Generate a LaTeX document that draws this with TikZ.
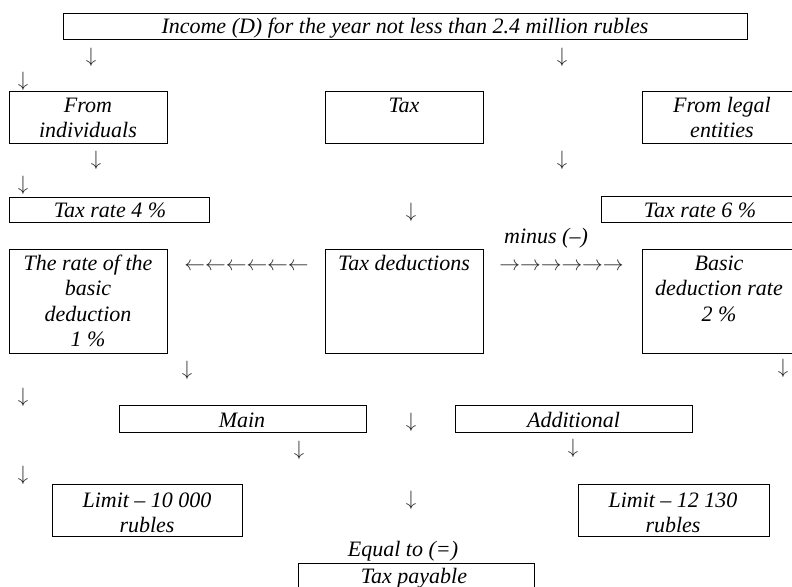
\documentclass[tikz,border=0pt]{standalone}
\usepackage{fontspec}
\setmainfont{Liberation Serif}
\begin{document}
\begin{tikzpicture}[x=1pt,y=-1pt,
  box/.style={draw=black, line width=0.9pt, inner sep=0pt, outer sep=0pt, anchor=north west},
  txt/.style={font=\fontsize{22}{25.5}\selectfont\itshape, inner sep=0pt, anchor=base},
  arr/.style={font=\fontsize{20}{24}\selectfont, inner sep=0pt, anchor=center, text=black!85},
  harr/.style={font=\fontsize{22}{25.5}\selectfont, inner sep=0pt, anchor=base, text=black!85}]
\useasboundingbox (0,0) rectangle (792,586);
\clip (0,0) rectangle (792,586);
% boxes
\node[box, minimum width=684pt, minimum height=26pt] (income) at (63,13) {};
\node[box, minimum width=158pt, minimum height=52pt] (indiv) at (9,91) {};
\node[box, minimum width=158pt, minimum height=52pt] (tax) at (325,91) {};
\node[box, minimum width=162pt, minimum height=52pt] (legal) at (642,91) {};
\node[box, minimum width=200pt, minimum height=25pt] (rate4) at (9,197) {};
\node[box, minimum width=200pt, minimum height=26pt] (rate6) at (601,196) {};
\node[box, minimum width=158pt, minimum height=104pt] (basicl) at (9,249) {};
\node[box, minimum width=158pt, minimum height=104pt] (deduct) at (325,249) {};
\node[box, minimum width=158pt, minimum height=104pt] (basicr) at (642,249) {};
\node[box, minimum width=247pt, minimum height=27pt] (main) at (119,405) {};
\node[box, minimum width=237pt, minimum height=27pt] (addit) at (455,405) {};
\node[box, minimum width=190pt, minimum height=52pt] (lim1) at (52,484) {};
\node[box, minimum width=191pt, minimum height=52pt] (lim2) at (578,484) {};
\node[box, minimum width=236pt, minimum height=40pt] (payable) at (298,563) {};
% texts
\node[txt] (income-t) at (405,33.5) {Income (D) for the year not less than 2.4 million rubles};
\node[txt] (indiv-t) at (88,112) {\parbox[t]{150pt}{\centering From\\individuals}};
\node[txt] (tax-t) at (404,112) {Tax};
\node[txt] (legal-t) at (722,112) {\parbox[t]{150pt}{\centering From legal\\entities}};
\node[txt] (rate4-t) at (110,217) {Tax rate 4 \%};
\node[txt] (rate6-t) at (700,217) {Tax rate 6 \%};
\node[txt] (basicl-t) at (88,270) {\parbox[t]{150pt}{\centering The rate of the\\basic\\deduction\\1 \%}};
\node[txt] (deduct-t) at (404,270) {Tax deductions};
\node[txt] (basicr-t) at (719,270) {\parbox[t]{150pt}{\centering Basic\\deduction rate\\2 \%}};
\node[txt] (minus) at (546,243) {minus (–)};
\node[harr] (larr) at (246.5,270) {$\leftarrow\leftarrow\leftarrow\leftarrow\leftarrow\leftarrow$};
\node[harr] (rarr) at (561.5,270) {$\rightarrow\rightarrow\rightarrow\rightarrow\rightarrow\rightarrow$};
\node[txt] (main-t) at (242,427) {Main};
\node[txt] (addit-t) at (573.5,427) {Additional};
\node[txt] (lim1-t) at (147,507) {\parbox[t]{180pt}{\centering Limit – 10 000\\rubles}};
\node[txt] (lim2-t) at (673,507) {\parbox[t]{180pt}{\centering Limit – 12 130\\rubles}};
\node[txt] (equal) at (403,556) {Equal to (=)};
\node[txt] (payable-t) at (414,583) {Tax payable};
% down arrows (text glyphs)
\node[arr] (d1) at (91,57) {$\downarrow$};
\node[arr] (d2) at (562,57) {$\downarrow$};
\node[arr] (d3) at (23,81) {$\downarrow$};
\node[arr] (d4) at (96,160) {$\downarrow$};
\node[arr] (d5) at (562,160) {$\downarrow$};
\node[arr] (d6) at (23,185) {$\downarrow$};
\node[arr] (d7) at (411,212) {$\downarrow$};
\node[arr] (d8) at (187,370) {$\downarrow$};
\node[arr] (d9) at (783,368) {$\downarrow$};
\node[arr] (d10) at (23,397) {$\downarrow$};
\node[arr] (d11) at (411,422) {$\downarrow$};
\node[arr] (d12) at (299,450) {$\downarrow$};
\node[arr] (d13) at (573,448) {$\downarrow$};
\node[arr] (d14) at (23,475) {$\downarrow$};
\node[arr] (d15) at (411,500) {$\downarrow$};
\end{tikzpicture}
\end{document}
